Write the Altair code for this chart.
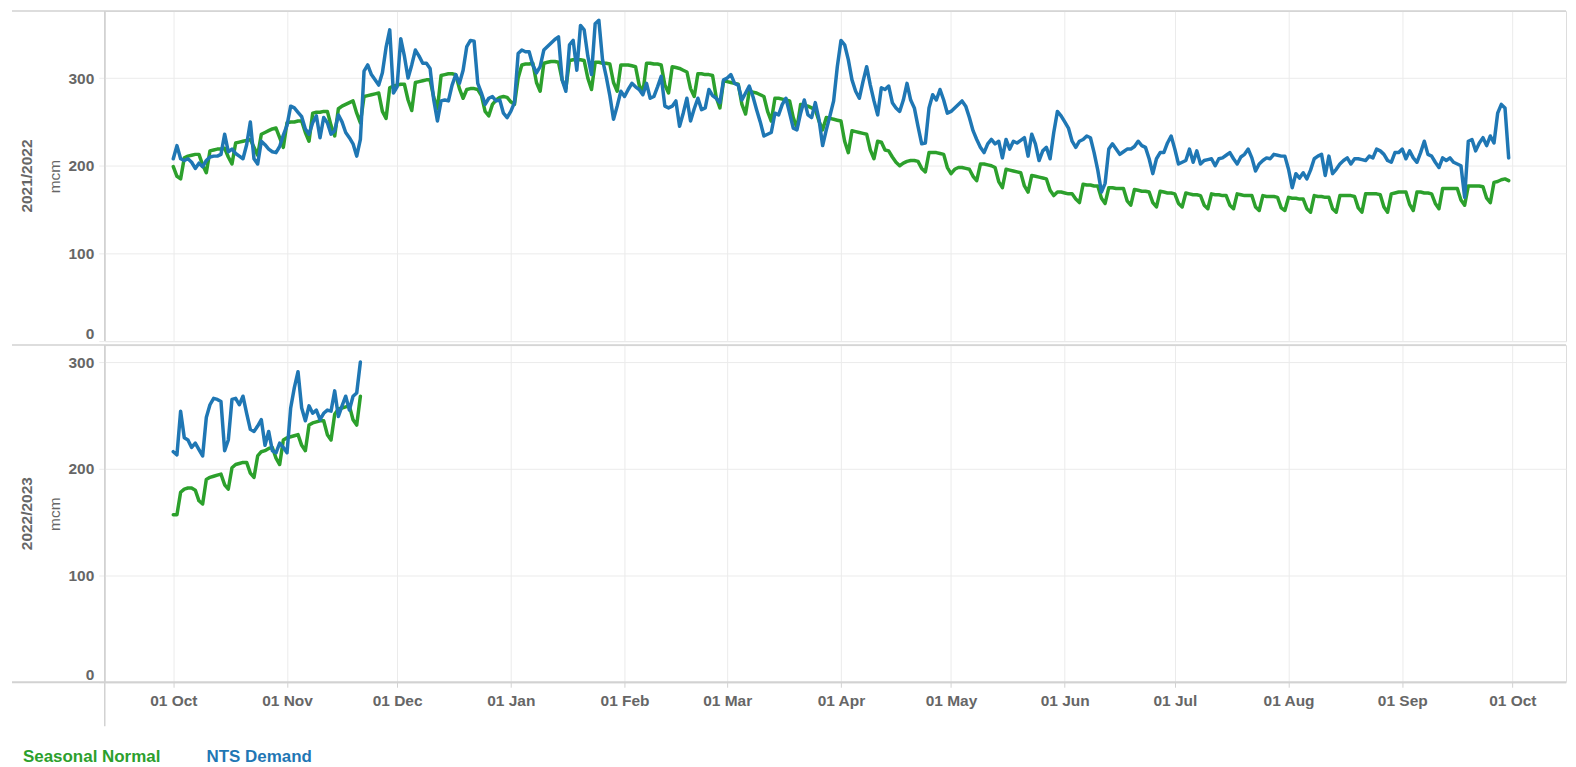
import altair as alt
import pandas as pd

FONT = "Liberation Sans"
TEXT = "#666666"
GRID = "#ebebeb"
BORDER = "#d2d2d2"

SEASON_START = "2021-10-01"          # both seasons are drawn on the same Oct-Sep axis
season_labels = ["2021/2022", "2022/2023"]
series_names = ["Seasonal Normal", "NTS Demand"]
series_colors = ["#2ca02c", "#1f77b4"]
y_ticks = [0, 100, 200, 300]
month_ticks = ["2021-10-01", "2021-11-01", "2021-12-01", "2022-01-01", "2022-02-01",
               "2022-03-01", "2022-04-01", "2022-05-01", "2022-06-01", "2022-07-01",
               "2022-08-01", "2022-09-01", "2022-10-01"]

# ---- 2021/2022 (daily, 01 Oct 2021 .. 30 Sep 2022) ----
normal_2122 = [
    199, 188, 185,
    209, 211, 212, 213, 213, 201, 192,
    217, 218, 219, 219, 220, 210, 202,
    226, 227, 228, 229, 230, 221, 212,
    236, 238, 240, 242, 243, 232, 221,
    249, 250, 250, 251, 251, 238, 228,
    260, 261, 261, 262, 262, 246, 234,
    265, 268, 270, 272, 274, 260, 249,
    279, 280, 281, 282, 283, 262, 254,
    289, 291, 292, 293, 293, 275, 263,
    295, 296, 297, 298, 298, 278, 265,
    303, 304, 305, 305, 304, 288, 277,
    287, 288, 288, 287, 280, 262, 257,
    270, 275, 278, 279, 278, 273, 270,
    300, 315, 316, 316, 317, 295, 285,
    317, 318, 319, 319, 318, 298, 288,
    320, 321, 321, 321, 320, 300, 287,
    318, 318, 317, 317, 316, 295, 285,
    315, 315, 315, 314, 313, 292, 283,
    317, 317, 316, 316, 315, 292, 283,
    313, 312, 311, 309, 307, 288, 279,
    305, 305, 304, 304, 303, 278, 266,
    297, 296, 295, 294, 293, 270, 259,
    285, 284, 283, 281, 279, 262, 251,
    277, 277, 276, 275, 274, 255, 243,
    270, 269, 268, 266, 264, 251, 241,
    255, 254, 253, 252, 251, 228, 215,
    240, 239, 238, 237, 236, 218, 208,
    228, 227, 218, 217, 210, 204, 200,
    203, 205, 206, 206, 205, 197, 193,
    215, 215, 215, 214, 213, 198, 191,
    196, 198, 198, 197, 196, 188, 183,
    202, 202, 201, 200, 198, 182, 175,
    196, 195, 194, 193, 192, 177, 170,
    189, 188, 187, 186, 185, 172, 166,
    170, 170, 169, 168, 168, 162, 158,
    179, 178, 178, 177, 177, 163, 157,
    175, 175, 174, 174, 174, 160, 155,
    173, 172, 171, 171, 170, 158, 153,
    171, 170, 169, 169, 168, 157, 153,
    169, 168, 167, 167, 166, 155, 151,
    168, 167, 167, 166, 166, 155, 151,
    168, 167, 166, 166, 166, 153, 149,
    166, 165, 165, 165, 164, 152, 149,
    164, 163, 163, 162, 162, 151, 147,
    166, 165, 165, 164, 164, 151, 147,
    166, 166, 166, 166, 165, 152, 147,
    168, 168, 168, 168, 167, 153, 147,
    168, 169, 170, 170, 170, 156, 149,
    170, 170, 169, 169, 168, 157, 151,
    174, 174, 174, 174, 174, 161, 155,
    177, 177, 177, 177, 176, 163, 158,
    181, 182, 184, 185, 183,
]
demand_2122 = [
    208, 223, 208, 206, 208, 204, 197, 203, 199, 206,
    210, 211, 211, 213, 236, 216, 219, 214, 211, 208,
    224, 250, 208, 202, 228, 224, 219, 216, 215, 222,
    235, 246, 268, 266, 261, 256, 242, 236, 249, 257,
    232, 255, 249, 236, 240, 258, 250, 238, 232, 225,
    211, 230, 308, 315, 304, 298, 292, 306, 335, 355,
    283, 290, 345, 325, 300, 315, 332, 325, 317, 317,
    311, 275, 251, 274, 275, 274, 292, 304, 294, 309,
    336, 343, 342, 294, 283, 270, 277, 279, 274, 275,
    260, 255, 262, 272, 328, 332, 330, 330, 315, 306,
    313, 332, 336, 340, 344, 347, 298, 285, 338, 343,
    309, 360, 355, 325, 304, 362, 366, 321, 302, 280,
    253, 268, 285, 279, 287, 294, 290, 287, 281, 294,
    277, 279, 290, 302, 268, 266, 268, 274, 245, 260,
    277, 251, 265, 277, 264, 266, 287, 280, 277, 272,
    298, 300, 304, 294, 292, 275, 283, 291, 279, 264,
    250, 234, 236, 238, 260, 258, 270, 277, 260, 243,
    241, 260, 275, 258, 255, 272, 253, 223, 241, 257,
    274, 313, 343, 338, 321, 298, 285, 277, 296, 313,
    292, 274, 258, 289, 287, 291, 272, 266, 262, 275,
    294, 275, 266, 245, 225, 226, 266, 281, 275, 287,
    275, 260, 262, 266, 270, 274, 268, 255, 240, 230,
    221, 215, 225, 230, 225, 228, 209, 230, 219, 228,
    226, 229, 232, 211, 236, 225, 206, 217, 221, 208,
    238, 262, 257, 250, 243, 228, 221, 228, 230, 234,
    232, 215, 195, 170, 180, 219, 225, 219, 213, 216,
    219, 219, 222, 228, 223, 221, 208, 191, 208, 215,
    215, 226, 234, 219, 202, 204, 206, 219, 204, 217,
    202, 206, 207, 208, 200, 208, 209, 212, 215, 208,
    202, 210, 213, 219, 209, 194, 202, 206, 209, 208,
    213, 212, 211, 211, 196, 175, 191, 186, 192, 185,
    195, 208, 211, 213, 189, 211, 191, 196, 202, 206,
    209, 202, 208, 208, 207, 206, 211, 209, 219, 217,
    213, 206, 204, 215, 215, 219, 208, 217, 209, 204,
    215, 228, 213, 211, 204, 198, 209, 206, 209, 204,
    202, 200, 164, 228, 230, 217, 226, 232, 223, 234,
    226, 260, 270, 266, 209,
]

# ---- 2022/2023 (daily, 01 Oct 2022 .. 21 Nov 2022) ----
normal_2223 = [
    157, 157,
    178, 181, 182, 182, 180, 170, 167,
    190, 192, 193, 194, 195, 185, 181,
    201, 204, 205, 206, 206, 196, 192,
    212, 216, 217, 219, 220, 210, 204,
    227, 229, 230, 231, 232, 222, 217,
    241, 243, 244, 245, 245, 232, 227,
    251, 256, 257, 258, 259, 246, 241,
    268,
]
demand_2223 = [
    216, 213, 254, 229, 227, 220, 224, 218, 212, 248,
    260, 266, 265, 263, 217, 227, 265, 266, 260, 268,
    252, 237, 235, 240, 246, 222, 235, 217, 215, 224,
    220, 215, 257, 276, 291, 257, 245, 259, 252, 255,
    246, 252, 255, 254, 273, 249, 259, 268, 255, 268,
    271, 300,
]

# ---- layout (pixels) ----
PLOT_W = 1465
TOP_H = 331
BOT_H = 338
LEFT_EXT = 93


def dt(s):
    t = pd.Timestamp(s)
    return alt.DateTime(year=t.year, month=t.month, date=t.day, hours=t.hour, minutes=t.minute)


tick_values = [dt(s) for s in month_ticks]
x_domain = [dt("2021-09-12 07:41"), dt("2022-10-15 15:07")]
color_scale = alt.Scale(domain=series_names, range=series_colors)


def season_frame(normal, demand):
    parts = []
    for name, vals in zip(series_names, (normal, demand)):
        parts.append(pd.DataFrame({
            "date": pd.date_range(SEASON_START, periods=len(vals), freq="D"),
            "value": vals,
            "series": name,
        }))
    return pd.concat(parts, ignore_index=True)


def panel(normal, demand, season, height, ymax, is_bottom):
    df = season_frame(normal, demand)
    x_axis = alt.Axis(values=tick_values, format="%d %b", title=None, domain=False,
                      grid=True, gridColor=GRID, gridWidth=1,
                      labels=is_bottom, ticks=is_bottom, tickSize=5, tickColor=BORDER,
                      labelPadding=6, labelFont=FONT, labelFontSize=15.5, labelColor=TEXT,
                      labelFontWeight="bold")
    y_axis = alt.Axis(values=y_ticks, title="mcm", domain=False, grid=True, gridColor=GRID,
                      ticks=True, tickSize=6, tickColor=GRID, labelPadding=5, labelFlush=True,
                      labelFont=FONT, labelFontSize=15.5, labelColor=TEXT, labelFontWeight="bold",
                      titleFont=FONT, titleFontSize=15.5, titleFontWeight="normal",
                      titleColor=TEXT, titlePadding=6)
    x = alt.X("date:T", scale=alt.Scale(domain=x_domain), axis=x_axis)
    y = alt.Y("value:Q", scale=alt.Scale(domain=[0, ymax], nice=False, zero=False), axis=y_axis)
    color = alt.Color("series:N", scale=color_scale, legend=None)

    deco = alt.Chart(pd.DataFrame({"season": [season]}))
    layers = [
        deco.mark_rule(color=BORDER, strokeWidth=1.5).encode(
            x=alt.value(-LEFT_EXT), x2=alt.value(PLOT_W), y=alt.value(0)),
        deco.mark_rule(color=BORDER, strokeWidth=1.5).encode(
            x=alt.value(0), y=alt.value(0), y2=alt.value(height + (44 if is_bottom else 0))),
        deco.mark_text(angle=270, font=FONT, fontSize=15.5, fontWeight="bold", color=TEXT).encode(
            text="season:N", x=alt.value(25 - 103), y=alt.value(height / 2)),
    ]
    if is_bottom:
        layers.append(deco.mark_rule(color=BORDER, strokeWidth=2).encode(
            x=alt.value(-LEFT_EXT), x2=alt.value(PLOT_W), y=alt.value(height)))
    for name in series_names:
        layers.append(
            alt.Chart(df).transform_filter(alt.datum.series == name)
            .mark_line(strokeWidth=3.5, strokeJoin="round", strokeCap="round")
            .encode(x=x, y=y, color=color)
        )
    if is_bottom:
        legend_df = pd.DataFrame({"series": series_names})
        for name, lx in zip(series_names, (21 - 103, 205 - 103)):
            layers.append(
                alt.Chart(legend_df).transform_filter(alt.datum.series == name)
                .mark_text(align="left", baseline="middle", font=FONT, fontSize=17, fontWeight="bold")
                .encode(text="series:N", color=color, x=alt.value(lx), y=alt.value(height + 75))
            )
    return alt.layer(*layers).properties(width=PLOT_W, height=height)


top = panel(normal_2122, demand_2122, season_labels[0], TOP_H, TOP_H / 0.879, False)
bottom = panel(normal_2223, demand_2223, season_labels[1], BOT_H, BOT_H / 1.07, True)

chart = (
    alt.vconcat(top, bottom, spacing=0)
    .resolve_scale(y="independent")
    .properties(padding={"left": 2, "top": 0, "right": 0, "bottom": 0})
    .configure_view(stroke=None)
    .configure(font=FONT)
)

chart.save("out.html", embed_options={"renderer": "svg", "actions": False})
